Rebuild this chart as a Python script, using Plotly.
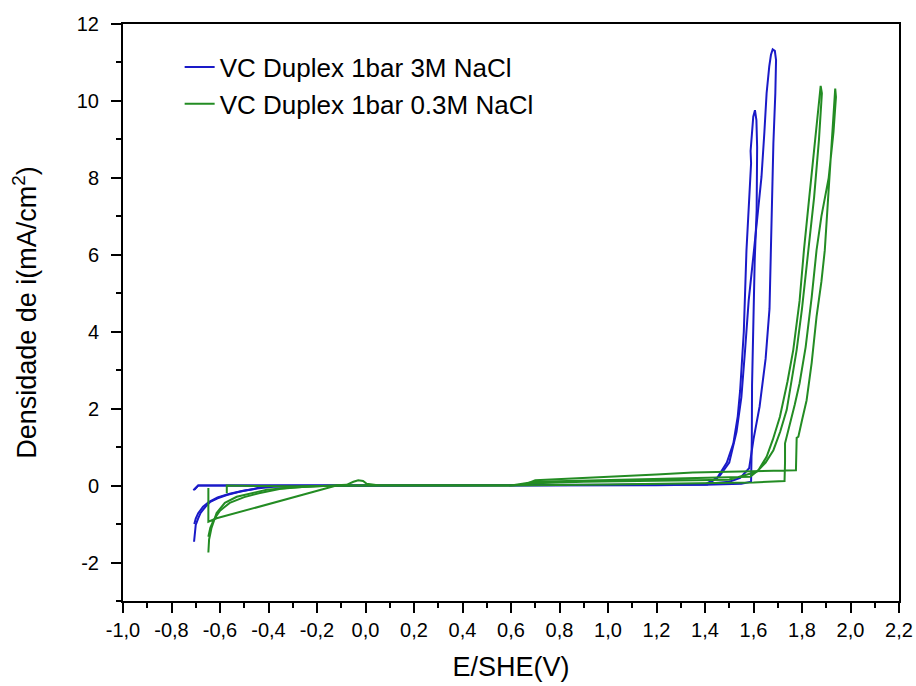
import plotly.graph_objects as go

# ---------------- data (E vs SHE in V, current density in mA/cm2) ----------------
series_names = ["VC Duplex 1bar 3M NaCl", "VC Duplex 1bar 0.3M NaCl"]

# 3M NaCl, cycle 1 (small loop, peak ~1.606 V)
blue1_E = [-0.707, -0.705, -0.700, -0.690, -0.680, -0.660, -0.640, -0.610, -0.572, -0.520, -0.460, -0.435,
           -0.400, -0.300, -0.100, 0.300, 0.700, 1.000, 1.200, 1.350, 1.400, 1.450, 1.490, 1.517, 1.535,
           1.545, 1.560, 1.571, 1.580, 1.590, 1.588, 1.594, 1.599, 1.606, 1.612, 1.615, 1.613, 1.605,
           1.598, 1.594, 1.593, 1.593, 1.590, 1.550, 1.450, 1.400, 1.000, 0.500, 0.000, -0.400, -0.690,
           -0.700, -0.710]
blue1_I = [-1.46, -1.25, -1.02, -0.85, -0.71, -0.55, -0.42, -0.33, -0.245, -0.16, -0.09, -0.04,
           -0.02, -0.01, 0.00, 0.00, 0.00, 0.01, 0.01, 0.02, 0.03, 0.20, 0.60, 1.10, 1.80,
           2.48, 4.00, 6.12, 7.30, 8.38, 8.70, 9.20, 9.59, 9.76, 9.50, 8.80, 7.16, 5.86,
           4.20, 2.60, 1.20, 0.30, 0.10, 0.05, 0.03, 0.02, 0.01, 0.00, 0.00, 0.00, 0.00,
           -0.05, -0.12]

# 3M NaCl, cycle 2 (large loop, peak ~1.679 V)
blue2_E = [-0.706, -0.700, -0.690, -0.670, -0.645, -0.610, -0.560, -0.500, -0.440, -0.380, -0.200,
           0.200, 0.800, 1.200, 1.410, 1.460, 1.500, 1.530, 1.550, 1.565, 1.580, 1.600, 1.615, 1.633,
           1.645, 1.654, 1.665, 1.672, 1.679, 1.688, 1.693, 1.690, 1.682, 1.676, 1.672, 1.666, 1.650,
           1.625, 1.600, 1.582, 1.545, 1.500, 1.410, 1.000, 0.400, -0.200, -0.690, -0.705]
blue2_I = [-1.00, -0.86, -0.72, -0.55, -0.42, -0.31, -0.21, -0.13, -0.07, -0.03, -0.01,
           0.00, 0.00, 0.01, 0.03, 0.25, 0.60, 1.40, 2.30, 3.50, 4.80, 6.00, 7.00, 8.03,
           9.20, 10.20, 10.90, 11.20, 11.34, 11.30, 11.06, 10.20, 8.90, 7.20, 5.86, 4.60, 3.30,
           2.05, 1.20, 0.45, 0.20, 0.10, 0.05, 0.02, 0.01, 0.00, 0.00, -0.10]

# 0.3M NaCl, cycle 1 (peak ~1.877 V)
green1_E = [-0.648, -0.640, -0.625, -0.600, -0.560, -0.500, -0.440, -0.400, -0.350, -0.250, -0.120,
            0.200, 0.600, 0.700, 1.000, 1.300, 1.450, 1.550, 1.586, 1.620, 1.654, 1.680, 1.709, 1.740,
            1.764, 1.790, 1.808, 1.830, 1.850, 1.868, 1.877, 1.882, 1.870, 1.850, 1.826, 1.800, 1.778,
            1.755, 1.737, 1.710, 1.682, 1.650, 1.613, 1.500, 1.200, 0.900, 0.700, 0.600, 0.200, -0.120,
            -0.614, -0.648, -0.648]
green1_I = [-1.33, -1.10, -0.88, -0.65, -0.45, -0.30, -0.20, -0.14, -0.08, -0.03, 0.00,
            0.00, 0.00, 0.10, 0.15, 0.20, 0.22, 0.23, 0.23, 0.40, 0.75, 1.20, 1.79, 2.70,
            3.53, 4.80, 6.12, 7.50, 8.80, 9.90, 10.39, 10.20, 9.00, 7.50, 6.12, 4.60, 3.53,
            2.60, 1.97, 1.40, 0.92, 0.60, 0.36, 0.15, 0.12, 0.10, 0.06, 0.00, 0.00, 0.00,
            -0.85, -0.94, -0.06]

# 0.3M NaCl, cycle 2 (peak ~1.937 V)
green2_E = [-0.648, -0.645, -0.635, -0.614, -0.580, -0.531, -0.450, -0.407, -0.300, -0.150, -0.078,
            -0.050, -0.030, -0.010, 0.005, 0.050, 0.400, 0.650, 0.700, 1.000, 1.200, 1.350, 1.500,
            1.650, 1.775, 1.778, 1.785, 1.800, 1.819, 1.840, 1.860, 1.880, 1.894, 1.910, 1.925, 1.933,
            1.937, 1.940, 1.930, 1.910, 1.880, 1.860, 1.840, 1.815, 1.790, 1.770, 1.750, 1.730, 1.730,
            1.728, 1.600, 1.400, 1.000, 0.500, 0.000, -0.300, -0.500, -0.572, -0.572]
green2_I = [-1.74, -1.40, -1.10, -0.71, -0.45, -0.29, -0.17, -0.11, -0.05, -0.01, 0.02,
            0.10, 0.14, 0.12, 0.05, 0.01, 0.00, 0.01, 0.14, 0.22, 0.29, 0.34, 0.36,
            0.38, 0.40, 1.24, 1.27, 1.70, 2.22, 3.20, 4.39, 5.30, 6.12, 7.70, 9.20, 10.00,
            10.32, 10.10, 9.20, 8.00, 7.00, 6.12, 4.90, 3.60, 2.66, 2.10, 1.63, 1.10, 0.60,
            0.12, 0.08, 0.06, 0.03, 0.00, 0.00, -0.02, -0.01, 0.00, -0.20]

x_tick_vals = [-1.0, -0.8, -0.6, -0.4, -0.2, 0.0, 0.2, 0.4, 0.6, 0.8, 1.0, 1.2, 1.4, 1.6, 1.8, 2.0, 2.2]
x_tick_text = ["-1,0", "-0,8", "-0,6", "-0,4", "-0,2", "0,0", "0,2", "0,4", "0,6", "0,8",
               "1,0", "1,2", "1,4", "1,6", "1,8", "2,0", "2,2"]
y_tick_vals = [-2, 0, 2, 4, 6, 8, 10, 12]
y_tick_text = ["-2", "0", "2", "4", "6", "8", "10", "12"]

BLUE = "#1a1ac8"
GREEN = "#238c23"
FONT = "Liberation Sans, Arial, sans-serif"

fig = go.Figure()
fig.add_trace(go.Scatter(x=blue1_E + [None] + blue2_E, y=blue1_I + [None] + blue2_I,
                         mode="lines", name=series_names[0],
                         line=dict(color=BLUE, width=2)))
fig.add_trace(go.Scatter(x=green1_E + [None] + green2_E, y=green1_I + [None] + green2_I,
                         mode="lines", name=series_names[1],
                         line=dict(color=GREEN, width=2)))

fig.update_layout(
    width=916, height=686,
    margin=dict(l=123, r=17, t=24, b=85),
    paper_bgcolor="white", plot_bgcolor="white",
    font=dict(family=FONT, color="black", size=20),
    showlegend=True,
    legend=dict(x=0.073, y=0.966, xanchor="left", yanchor="top",
                bgcolor="rgba(0,0,0,0)", borderwidth=0,
                font=dict(size=26, family=FONT), tracegroupgap=0, itemwidth=30),
)

fig.update_xaxes(
    range=[-1.0, 2.2], tickvals=x_tick_vals, ticktext=x_tick_text,
    ticks="outside", ticklen=10, tickwidth=1.5, tickcolor="black",
    minor=dict(dtick=0.1, ticks="outside", ticklen=5, tickwidth=1.5, tickcolor="black", showgrid=False),
    showline=True, linecolor="black", linewidth=2, mirror=True,
    showgrid=False, zeroline=False, automargin=False,
    tickfont=dict(size=20),
    title=dict(text="E/SHE(V)", font=dict(size=27), standoff=17),
)
fig.update_yaxes(
    range=[-3, 12], tickvals=y_tick_vals, ticktext=y_tick_text,
    ticks="outside", ticklen=10, tickwidth=1.5, tickcolor="black",
    minor=dict(dtick=1, ticks="outside", ticklen=5, tickwidth=1.5, tickcolor="black", showgrid=False),
    showline=True, linecolor="black", linewidth=2, mirror=True,
    showgrid=False, zeroline=False, automargin=False,
    tickfont=dict(size=20), ticklabelstandoff=8,
    title=dict(text="Densidade de i(mA/cm<sup>2</sup>)", font=dict(size=27), standoff=32),
)

fig.write_html("out.html")
